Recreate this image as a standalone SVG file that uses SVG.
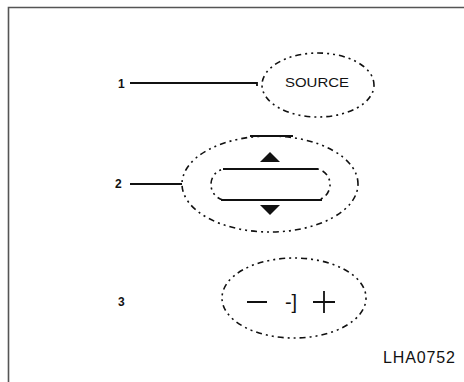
<svg xmlns="http://www.w3.org/2000/svg" width="464" height="382" viewBox="0 0 464 382">
<style>
.frame{fill:none;stroke:#555;stroke-width:1.6}
.dot{fill:none;stroke:#111;stroke-width:1.6;stroke-dasharray:2 4 2 4 6 4}
.solid{stroke:#111;stroke-width:1.8;fill:none}
.num{font-family:"Liberation Sans",Arial,sans-serif;font-weight:bold;font-size:12px;fill:#111}
.lbl{font-family:"Liberation Sans",Arial,sans-serif;fill:#111}
</style>
<rect width="464" height="382" fill="#fff"/>
<path class="frame" d="M8.5,382 V7.5 H464"/>
<g id="connectors">
<path class="solid" d="M130,83 H257 v3"/>
<path class="solid" d="M130,184 H182"/>
</g>
<g id="node-1">
<text class="num" x="118" y="88">1</text>
<ellipse class="dot" cx="318" cy="85" rx="56" ry="32"/>
<text class="lbl" x="317" y="87" font-size="13" text-anchor="middle" textLength="64" lengthAdjust="spacingAndGlyphs">SOURCE</text>
</g>
<g id="node-2">
<text class="num" x="115" y="188">2</text>
<ellipse class="dot" cx="270" cy="184" rx="88" ry="48"/>
<path class="solid" d="M250,136 H293"/>
<path class="dot" d="M223,169 H318 A16,16 0 0 1 318,200 H223 A16,16 0 0 1 223,169 Z"/>
<path class="solid" d="M223,169 H318 M221,200 H322"/>
<polygon points="270,152 280,162 260,162" fill="#111"/>
<polygon points="260,205 280,205 270,215" fill="#111"/>
</g>
<g id="node-3">
<text class="num" x="118" y="306">3</text>
<ellipse class="dot" cx="294" cy="298" rx="72" ry="40"/>
<path class="solid" d="M247,302 H267 M313,302 H335 M324,291 V313"/>
<text class="lbl" x="291" y="309" font-size="20" text-anchor="middle">-]</text>
</g>
<text class="lbl" x="455" y="363" font-size="16" text-anchor="end" textLength="72" fill="#222">LHA0752</text>
</svg>
